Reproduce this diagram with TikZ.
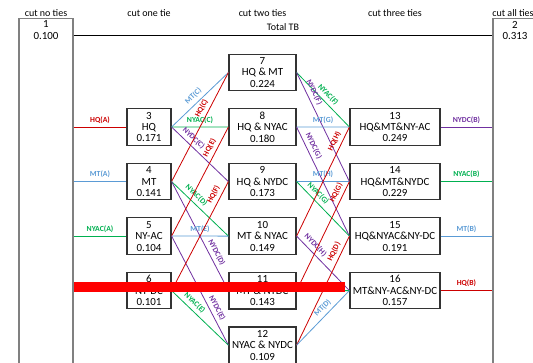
\documentclass[tikz,border=0pt]{standalone}
\usepackage{fontspec}
\setmainfont{Carlito}
\usepackage{tikz}
\usetikzlibrary{positioning}
\definecolor{hqred}{RGB}{204,0,0}
\definecolor{mtblue}{RGB}{91,155,213}
\definecolor{nyacgreen}{RGB}{0,176,80}
\definecolor{nydcpurple}{RGB}{112,48,160}
\definecolor{edgegray}{RGB}{128,128,128}

\begin{document}
\begin{tikzpicture}[x=0.75pt, y=-0.75pt, node distance=12.6pt,
    box/.style={draw=black!80, line width=0.9pt, minimum height=27.4pt, inner sep=1.5pt,
                align=center, font=\fontsize{8.2}{8.6}\selectfont},
    onebox/.style={box, minimum width=33pt},
    twobox/.style={box, minimum width=50.25pt},
    threebox/.style={box, minimum width=67.5pt},
    endbox/.style={draw=edgegray, line width=1pt, minimum height=270pt, anchor=north,
                   label={[anchor=north, align=center, inner sep=2pt,
                           font=\fontsize{8.2}{8.6}\selectfont]north:#1}},
    head/.style={font=\fontsize{7.5}{9}\selectfont},
    tie/.style={line width=0.6pt},
    hq/.style={tie, hqred}, mt/.style={tie, mtblue},
    nyac/.style={tie, nyacgreen}, nydc/.style={tie, nydcpurple},
    lbl/.style={font=\fontsize{5.8}{6}\selectfont\bfseries, sloped, above=1.5pt, inner sep=1pt}]
  \useasboundingbox (0,0) rectangle (533,362);

  \node[head] (h0) at (46,13.5) {cut no ties};
  \node[head] (h1) at (149,13.5) {cut one tie};
  \node[head] (h2) at (262.5,13.5) {cut two ties};
  \node[head] (h3) at (395,13.5) {cut three ties};
  \node[head] (h4) at (513,13.5) {cut all ties};

  \node[endbox={1\\0.100}, minimum width=40.5pt] (b1) at (46,18) {};
  \node[endbox={2\\0.313}, minimum width=33pt] (b2) at (515,18) {};

  \node[onebox] (n3) at (149,127) {3\\HQ\\0.171};
  \node[onebox, below=of n3] (n4) {4\\MT\\0.141};
  \node[onebox, below=of n4] (n5) {5\\NY-AC\\0.104};
  \node[onebox, below=of n5] (n6) {6\\NY-DC\\0.101};

  \node[twobox] (n7) at (262.5,72.5) {7\\HQ \& MT\\0.224};
  \node[twobox, below=of n7] (n8) {8\\HQ \& NYAC\\0.180};
  \node[twobox, below=of n8] (n9) {9\\HQ \& NYDC\\0.173};
  \node[twobox, below=of n9] (n10) {10\\MT \& NYAC\\0.149};
  \node[twobox, below=of n10] (n11) {11\\MT \& NYDC\\0.143};
  \node[twobox, below=of n11] (n12) {12\\NYAC \& NYDC\\0.109};

  \node[threebox] (n13) at (395,127) {13\\HQ\&MT\&NY-AC\\0.249};
  \node[threebox, below=of n13] (n14) {14\\HQ\&MT\&NYDC\\0.229};
  \node[threebox, below=of n14] (n15) {15\\HQ\&NYAC\&NY-DC\\0.191};
  \node[threebox, below=of n15] (n16) {16\\MT\&NY-AC\&NY-DC\\0.157};

  \coordinate (tb) at (283,35.5);
  \draw[line width=0.7pt] (b1.east |- tb) -- node[head, above=0pt]{Total TB} (b2.west |- tb);

  \draw[hq] (b1.east |- n3) -- node[lbl]{HQ(A)} (n3.west);
  \draw[mt] (b1.east |- n4) -- node[lbl]{MT(A)} (n4.west);
  \draw[nyac] (b1.east |- n5) -- node[lbl]{NYAC(A)} (n5.west);
  \draw[nydc] (b1.east |- n6) -- (n6.west);

  \draw[mt] (n3.east) -- node[lbl, pos=.47]{MT(C)} (n7.west);
  \draw[nyac] (n3.east) -- node[lbl]{NYAC(C)} (n8.west);
  \draw[nydc] (n3.east) -- node[lbl, pos=.3]{NYDC(C)} (n9.west);
  \draw[hq] (n4.east) -- node[lbl, pos=.64]{HQ(C)} (n7.west);
  \draw[nyac] (n4.east) -- node[lbl, pos=.35]{NYAC(D)} (n10.west);
  \draw[nydc] (n4.east) -- node[lbl, pos=.68]{NYDC(D)} (n11.west);
  \draw[hq] (n5.east) -- node[lbl, pos=.78]{HQ(E)} (n8.west);
  \draw[mt] (n5.east) -- node[lbl]{MT(E)} (n10.west);
  \draw[nydc] (n5.east) -- node[lbl, pos=.69]{NYDC(E)} (n12.west);
  \draw[hq] (n6.east) -- node[lbl, pos=.85]{HQ(F)} (n9.west);
  \draw[mt] (n6.east) -- (n11.west);
  \draw[nyac] (n6.east) -- node[lbl, pos=.32]{NYAC(E)} (n12.west);

  \draw[nyac] (n7.east) -- node[lbl]{NYAC(F)} (n13.west);
  \draw[nydc] (n7.east) -- node[lbl, pos=.21]{NYDC(F)} (n14.west);
  \draw[mt] (n8.east) -- node[lbl]{MT(G)} (n13.west);
  \draw[nydc] (n8.east) -- node[lbl, pos=.2]{NYDC(G)} (n15.west);
  \draw[mt] (n9.east) -- node[lbl]{MT(H)} (n14.west);
  \draw[nyac] (n9.east) -- node[lbl, pos=.31]{NYAC(G)} (n15.west);
  \draw[hq] (n10.east) -- node[lbl, pos=.84]{HQ(H)} (n13.west);
  \draw[nydc] (n10.east) -- node[lbl, pos=.26]{NYDC(H)} (n16.west);
  \draw[hq] (n11.east) -- node[lbl, pos=.87]{HQ(G)} (n14.west);
  \draw[nyac] (n11.east) -- (n16.west);
  \draw[hq] (n12.east) -- node[lbl, pos=.83]{HQ(D)} (n15.west);
  \draw[mt] (n12.east) -- node[lbl, pos=.59]{MT(D)} (n16.west);

  \draw[nydc] (n13.east) -- node[lbl]{NYDC(B)} (n13 -| b2.west);
  \draw[nyac] (n14.east) -- node[lbl]{NYAC(B)} (n14 -| b2.west);
  \draw[mt] (n15.east) -- node[lbl]{MT(B)} (n15 -| b2.west);
  \draw[hq] (n16.east) -- node[lbl]{HQ(B)} (n16 -| b2.west);

  \fill[red] (b1.east |- 0,281.7) rectangle (345,292.3);
\end{tikzpicture}
\end{document}
